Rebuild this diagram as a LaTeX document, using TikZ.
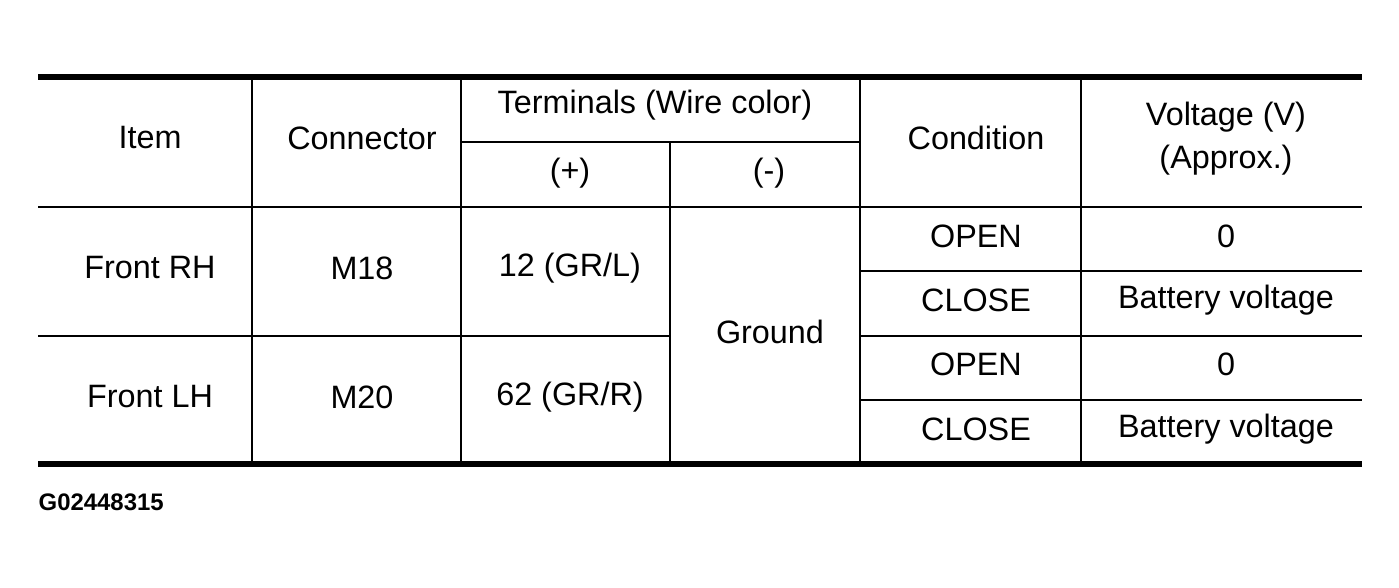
\documentclass[tikz,border=0pt]{standalone}
\usepackage{fontspec}
\setmainfont{Liberation Sans}
\tikzset{
  cell/.style={font=\fontsize{9.2}{11}\selectfont, inner sep=0pt},
  thick rule/.style={line width=1.6pt},
  thin rule/.style={line width=0.6pt}
}
\begin{document}
\begin{tikzpicture}[x=0.01cm, y=-0.01cm]
    \useasboundingbox (0,0) rectangle (1399,587);

    % Outer rules
    \draw[thick rule] (38,77) -- (1362,77);
    \draw[thick rule] (38,464) -- (1362,464);

    % Horizontal rules
    \draw[thin rule] (461,142) -- (860,142);
    \draw[thin rule] (38,207) -- (1362,207);
    \draw[thin rule] (38,336) -- (670,336);
    \foreach \y in {271, 336, 400} {
      \draw[thin rule] (860,\y) -- (1362,\y);
    }

    % Vertical rules
    \foreach \x in {252, 461, 860, 1081} {
      \draw[thin rule] (\x,77) -- (\x,464);
    }
    \draw[thin rule] (670,142) -- (670,464);

    % Header
    \node[cell] (item) at (150,138) {Item};
    \node[cell] (conn) at (362,138) {Connector};
    \node[cell] (term) at (655,105) {Terminals (Wire color)};
    \node[cell] (plus) at (570,173) {(+)};
    \node[cell] (minus) at (769,173) {(-)};
    \node[cell] (cond) at (976,138) {Condition};
    \node[cell] (volt) at (1226,117) {Voltage (V)};
    \node[cell] (approx) at (1226,160) {(Approx.)};

    % Body
    \node[cell] (rh) at (150,268) {Front RH};
    \node[cell] (m18) at (362,268) {M18};
    \node[cell] (t12) at (570,268) {12 (GR/L)};
    \node[cell] (lh) at (150,397) {Front LH};
    \node[cell] (m20) at (362,397) {M20};
    \node[cell] (t62) at (570,397) {62 (GR/R)};
    \node[cell] (gnd) at (770,332) {Ground};
    \foreach \y/\n in {236/a, 364/b} {
      \node[cell] (open\n) at (976,\y) {OPEN};
      \node[cell] (zero\n) at (1226,\y) {0};
    }
    \foreach \y/\n in {300/a, 429/b} {
      \node[cell] (close\n) at (976,\y) {CLOSE};
      \node[cell] (batt\n) at (1226,\y) {Battery voltage};
    }

    % Figure code
    \node[font=\fontsize{6.8}{8}\selectfont\bfseries, anchor=west, inner sep=0pt]
      (code) at (38,502) {G02448315};
  \end{tikzpicture}
\end{document}
